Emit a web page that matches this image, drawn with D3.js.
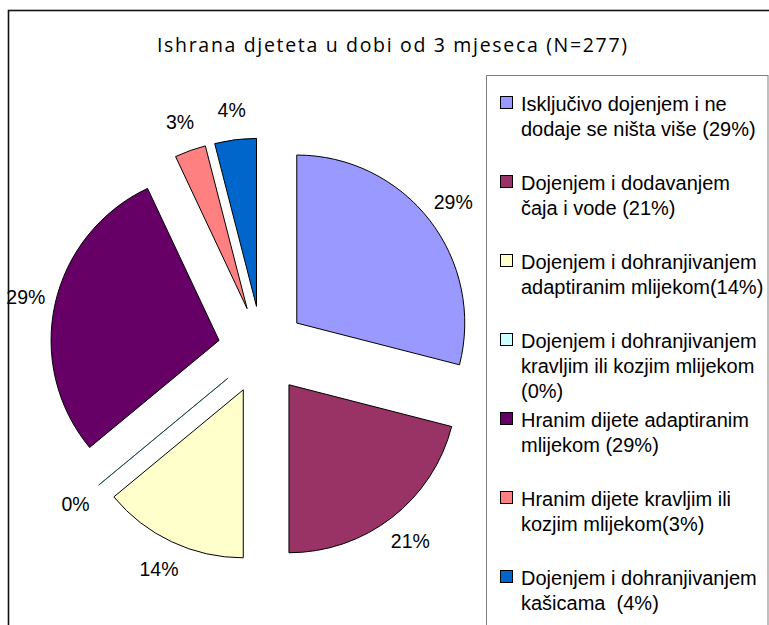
<!DOCTYPE html>
<html lang="hr">
  <head>
    <meta charset="utf-8">
    <title>Ishrana djeteta u dobi od 3 mjeseca</title>
    <script src="https://d3js.org/d3.v7.min.js"></script>
    <style>
      body { margin: 0; background: #fff; }
      svg { display: block; overflow: hidden; }
    </style>
  </head>
  <body>
    <div id="container"></div>
    <script>
      const width = 769;
      const height = 625;

      const title = "Ishrana djeteta u dobi od 3 mjeseca (N=277)";

      const categories = [
        "Isključivo dojenjem i ne dodaje se ništa više",
        "Dojenjem i dodavanjem čaja i vode",
        "Dojenjem i dohranjivanjem adaptiranim mlijekom",
        "Dojenjem i dohranjivanjem kravljim ili kozjim mlijekom",
        "Hranim dijete adaptiranim mlijekom",
        "Hranim dijete kravljim ili kozjim mlijekom",
        "Dojenjem i dohranjivanjem kašicama"
      ];
      const values = [29, 21, 14, 0, 29, 3, 4];
      const valueLabels = ["29%", "21%", "14%", "0%", "29%", "3%", "4%"];
      const legendLines = [
        ["Isključivo dojenjem i ne", "dodaje se ništa više (29%)"],
        ["Dojenjem i dodavanjem", "čaja i vode (21%)"],
        ["Dojenjem i dohranjivanjem", "adaptiranim mlijekom(14%)"],
        ["Dojenjem i dohranjivanjem", "kravljim ili kozjim mlijekom", "(0%)"],
        ["Hranim dijete adaptiranim", "mlijekom (29%)"],
        ["Hranim dijete kravljim ili", "kozjim mlijekom(3%)"],
        ["Dojenjem i dohranjivanjem", "kašicama  (4%)"]
      ];
      const colors = ["#9999ff", "#993366", "#ffffcc", "#ccffff", "#660066", "#ff8080", "#0066cc"];

      // pie geometry
      const cx = 262, cy = 350;
      const radius = 168;
      const explode = 44;
      const labelDist = radius + 30;

      const svg = d3.select("#container").append("svg")
          .attr("width", width)
          .attr("height", height)
          .attr("viewBox", [0, 0, width, height]);

      // outer chart frame (runs off the right and bottom edge)
      svg.append("rect")
          .attr("x", 8.5).attr("y", 10.5)
          .attr("width", 900).attr("height", 800)
          .attr("fill", "none")
          .attr("stroke", "#111")
          .attr("stroke-width", 1.6);

      svg.append("text")
          .attr("x", 392)
          .attr("y", 52)
          .attr("text-anchor", "middle")
          .attr("font-family", "'Open Sans', sans-serif")
          .attr("font-size", 19.5)
          .attr("textLength", 470)
          .attr("lengthAdjust", "spacing")
          .attr("fill", "#000")
          .text(title);

      const pie = d3.pie().sort(null).value(d => d);
      const arcs = pie(values);
      const arc = d3.arc().innerRadius(0).outerRadius(radius);

      const mid = d => (d.startAngle + d.endAngle) / 2;
      const offset = (d, k) => [Math.sin(mid(d)) * k, -Math.cos(mid(d)) * k];

      const slices = svg.append("g")
          .attr("transform", `translate(${cx},${cy})`)
        .selectAll("g")
        .data(arcs)
        .join("g")
          .attr("transform", d => `translate(${offset(d, explode)})`);

      slices.append("path")
          .attr("d", arc)
          .attr("fill", (d, i) => colors[i])
          .attr("stroke", d => d.value === 0 ? "#1f4a4a" : "#000")
          .attr("stroke-width", d => d.value === 0 ? 0.9 : 1)
          .attr("stroke-linejoin", "round");

      slices.append("text")
          .attr("transform", d => `translate(${offset(d, labelDist)})`)
          .attr("text-anchor", "middle")
          .attr("dy", "0.35em")
          .attr("font-family", "'Liberation Sans', Arial, sans-serif")
          .attr("font-size", 19.5)
          .attr("fill", "#000")
          .text((d, i) => valueLabels[i]);

      // legend
      const legend = svg.append("g");
      legend.append("rect")
          .attr("x", 486.5).attr("y", 75.5)
          .attr("width", 281.5).attr("height", 700)
          .attr("fill", "#fff")
          .attr("stroke", "#808080")
          .attr("stroke-width", 1);

      const item = legend.selectAll("g.item")
        .data(categories)
        .join("g")
          .attr("class", "item")
          .attr("transform", (d, i) => `translate(500,${111 + i * 79})`);

      item.append("rect")
          .attr("x", 0.5).attr("y", -14.5)
          .attr("width", 12).attr("height", 12)
          .attr("fill", (d, i) => colors[i])
          .attr("stroke", "#000")
          .attr("stroke-width", 1);

      item.append("text")
          .attr("x", 21)
          .attr("font-family", "'Liberation Sans', Arial, sans-serif")
          .attr("font-size", 20)
          .attr("fill", "#000")
        .selectAll("tspan")
        .data((d, i) => legendLines[i])
        .join("tspan")
          .attr("x", 21)
          .attr("y", (d, j) => j * 25)
          .style("white-space", "pre")
          .text(d => d);
    </script>
  </body>
</html>
